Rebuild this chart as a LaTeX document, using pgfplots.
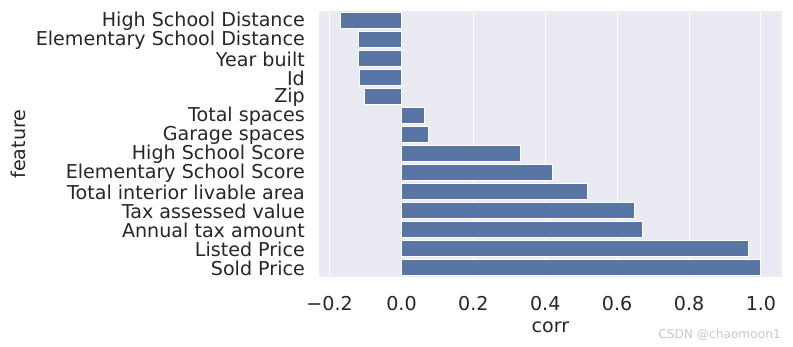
\documentclass[border=0pt]{standalone}
\usepackage{fontspec}
\setmainfont{DejaVu Sans}
\usepackage{pgfplots}
\pgfplotsset{compat=1.18}
\definecolor{barblue}{RGB}{89,117,164}
\definecolor{bgcol}{RGB}{234,234,242}
\definecolor{txt}{RGB}{38,38,38}
\begin{document}
\begin{tikzpicture}
\path[use as bounding box] (-319bp,-70bp) rectangle (474bp,277bp);
\begin{axis}[
  at={(0,0)}, anchor=south west,
  scale only axis, width=463bp, height=266bp,
  xmin=-0.2296, xmax=1.0586,
  ymin=-0.5, ymax=13.5, y dir=reverse,
  axis background/.style={fill=bgcol},
  axis line style={draw=none},
  major tick length=0pt,
  xtick={-0.2,0,0.2,0.4,0.6,0.8,1.0},
  xticklabels={−0.2,0.0,0.2,0.4,0.6,0.8,1.0},
  ytick={0,...,13},
  yticklabels={High School Distance,Elementary School Distance,Year built,Id,Zip,Total spaces,Garage spaces,High School Score,Elementary School Score,Total interior livable area,Tax assessed value,Annual tax amount,Listed Price,Sold Price},
  xmajorgrids, ymajorgrids=false,
  grid style={white, line width=1.1bp},
  tick label style={font=\fontsize{19.1bp}{20bp}\selectfont, text=txt},
  yticklabel style={inner sep=0pt, anchor=east, xshift=-14bp, yshift=-1bp},
  xticklabel style={inner sep=0pt, anchor=north, yshift=-19bp},
  label style={font=\fontsize{19.1bp}{20bp}\selectfont, text=txt},
  xlabel={corr}, ylabel={feature},
  xlabel style={at={(axis description cs:0.5,-0.2105)}, anchor=base},
  ylabel style={at={(axis description cs:-0.65,0.5)}, anchor=center},
  xbar, bar width=0.8, bar shift=0pt,
  clip=false,
]
\addplot[fill=barblue, draw=white, line width=0.9bp] coordinates {
(-0.171,0) (-0.121,1) (-0.121,2) (-0.116,3) (-0.104,4)
(0.064,5) (0.075,6) (0.332,7) (0.421,8) (0.518,9)
(0.648,10) (0.670,11) (0.965,12) (1.0,13)
};
\end{axis}
\node[anchor=base east, inner sep=0pt, text=black!22, font=\fontsize{12.2bp}{13bp}\selectfont] at (462bp,-61bp) {CSDN @chaomoon1};
\end{tikzpicture}
\end{document}
